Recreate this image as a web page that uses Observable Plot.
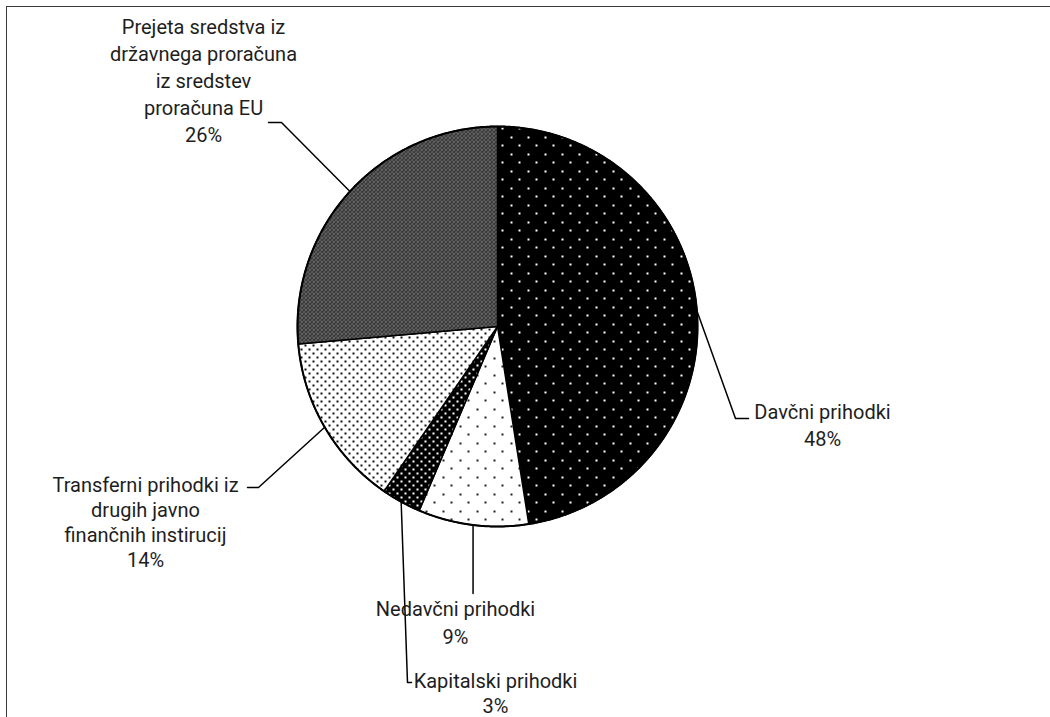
<!DOCTYPE html>
<html><head><meta charset="utf-8">
<script src="https://cdn.jsdelivr.net/npm/d3@7"></script>
<script src="https://cdn.jsdelivr.net/npm/@observablehq/plot@0.6"></script>
<style>
html,body{margin:0;padding:0;background:#fff;}
#wrap{position:relative;width:1050px;height:717px;overflow:hidden;}
#frame{position:absolute;left:6px;top:6px;width:1100px;height:800px;border-top:1.5px solid #3a3a3a;border-left:1.5px solid #3a3a3a;}
#chart{position:absolute;left:0;top:0;}
</style></head><body>
<div id="wrap"><div id="frame"></div><div id="chart"></div></div>
<script>
// ---- data ----
const categories = ["Davčni prihodki", "Nedavčni prihodki", "Kapitalski prihodki",
  "Transferni prihodki iz drugih javno finančnih instirucij",
  "Prejeta sredstva iz državnega proračuna iz sredstev proračuna EU"];
const shares = [47.5, 8.9, 3.2, 14.0, 26.4];
const percentLabels = ["48%", "9%", "3%", "14%", "26%"];
const labelLines = [
  ["Davčni prihodki"],
  ["Nedavčni prihodki"],
  ["Kapitalski prihodki"],
  ["Transferni prihodki iz", "drugih javno", "finančnih instirucij"],
  ["Prejeta sredstva iz", "državnega proračuna", "iz sredstev", "proračuna EU"]
];
const patternIds = ["p-davcni", "p-nedavcni", "p-kapitalski", "p-transferni", "p-prejeta"];

// ---- layout (pixels) ----
const W = 1050, H = 717, CX = 497, CY = 326, R = 200;
const labelLayout = [
  {x: 822, y0: 418, lh: 27, leader: [[735, 418], [748, 418]]},
  {x: 455, y0: 615, lh: 28, leader: [[null, 593]]},
  {x: 495, y0: 687, lh: 25, leader: [[407, 682], [411, 682]]},
  {x: 145, y0: 491, lh: 25, leader: [[258, 487], [247, 487]]},
  {x: 203, y0: 33, lh: 27, leader: [[281, 122], [268, 122]]}
];

const arcs = d3.pie().sort(null).value(d => d)(shares);
function ring(a0, a1, withCenter) {
  const pts = withCenter ? [[CX, CY]] : [];
  const n = Math.max(2, Math.ceil((a1 - a0) / (Math.PI / 360)));
  for (let i = 0; i <= n; i++) {
    const a = a0 + (a1 - a0) * i / n;
    pts.push([CX + R * Math.sin(a), CY - R * Math.cos(a)]);
  }
  pts.push(pts[0]);
  return pts;
}
const slices = arcs.map((p, i) => ({
  type: "Feature", properties: {name: categories[i]},
  geometry: {type: "Polygon", coordinates: [ring(p.startAngle, p.endAngle, true)]}
}));
const outline = {type: "Polygon", coordinates: [ring(0, 2 * Math.PI, false)]};

const leaders = [];
const texts = [];
arcs.forEach((p, i) => {
  const m = (p.startAngle + p.endAngle) / 2;
  const ax = CX + R * Math.sin(m), ay = CY - R * Math.cos(m);
  const L = labelLayout[i];
  leaders.push({k: i, x: ax, y: ay});
  L.leader.forEach(([x, y]) => leaders.push({k: i, x: x == null ? ax : x, y}));
  const lines = [...labelLines[i], percentLabels[i]];
  lines.forEach((t, j) => texts.push({t, x: L.x, y: L.y0 + j * L.lh}));
});

const svg = Plot.plot({
  width: W, height: H, margin: 0,
  projection: {type: "identity"},
  color: {domain: categories, range: patternIds.map(id => `url(#${id})`)},
  style: {fontFamily: "Roboto, sans-serif", fontSize: "20px", background: "transparent", overflow: "visible"},
  marks: [
    Plot.geo(slices, {fill: d => d.properties.name, stroke: "#000", strokeWidth: 1.5, strokeLinejoin: "round"}),
    Plot.geo([outline], {fill: "none", stroke: "#000", strokeWidth: 2}),
    Plot.line(leaders, {x: "x", y: "y", z: "k", curve: "linear", stroke: "#000", strokeWidth: 1.5}),
    Plot.text(texts, {x: "x", y: "y", text: "t", textAnchor: "middle", lineAnchor: "bottom",
      fontSize: 20, fill: "#1e1e1e", fontFamily: "Roboto, sans-serif"})
  ]
});

const defs = d3.select(svg).insert("defs", ":first-child");
function pat(id, size, bg, dots) {
  const p = defs.append("pattern").attr("id", id).attr("patternUnits", "userSpaceOnUse")
    .attr("width", size).attr("height", size);
  p.append("rect").attr("width", size).attr("height", size).attr("fill", bg);
  dots.forEach(([x, y, w, h, c]) => p.append("rect").attr("x", x).attr("y", y)
    .attr("width", w).attr("height", h).attr("fill", c).attr("shape-rendering", "crispEdges"));
}
pat("p-davcni", 17, "#000", [[0, 0, 2, 2, "#fff"], [8, 8, 2, 2, "#fff"]]);
pat("p-nedavcni", 17, "#fff", [[0, 0, 2, 1.5, "#222"], [8, 8, 2, 1.5, "#222"]]);
pat("p-kapitalski", 8, "#000", [[0, 0, 2, 2, "#fff"], [4, 4, 2, 2, "#fff"]]);
pat("p-transferni", 8, "#fff", [[0, 0, 2, 2, "#111"], [4, 4, 2, 2, "#111"]]);
pat("p-prejeta", 4, "#000", [[0, 0, 1, 1, "#fff"], [2, 0, 1, 1, "#fff"], [0, 2, 1, 1, "#fff"], [2, 2, 1, 1, "#ddd"], [1, 1, 1, 1, "#888"], [3, 3, 1, 1, "#666"]]);

document.getElementById("chart").appendChild(svg);
</script>
</body></html>
